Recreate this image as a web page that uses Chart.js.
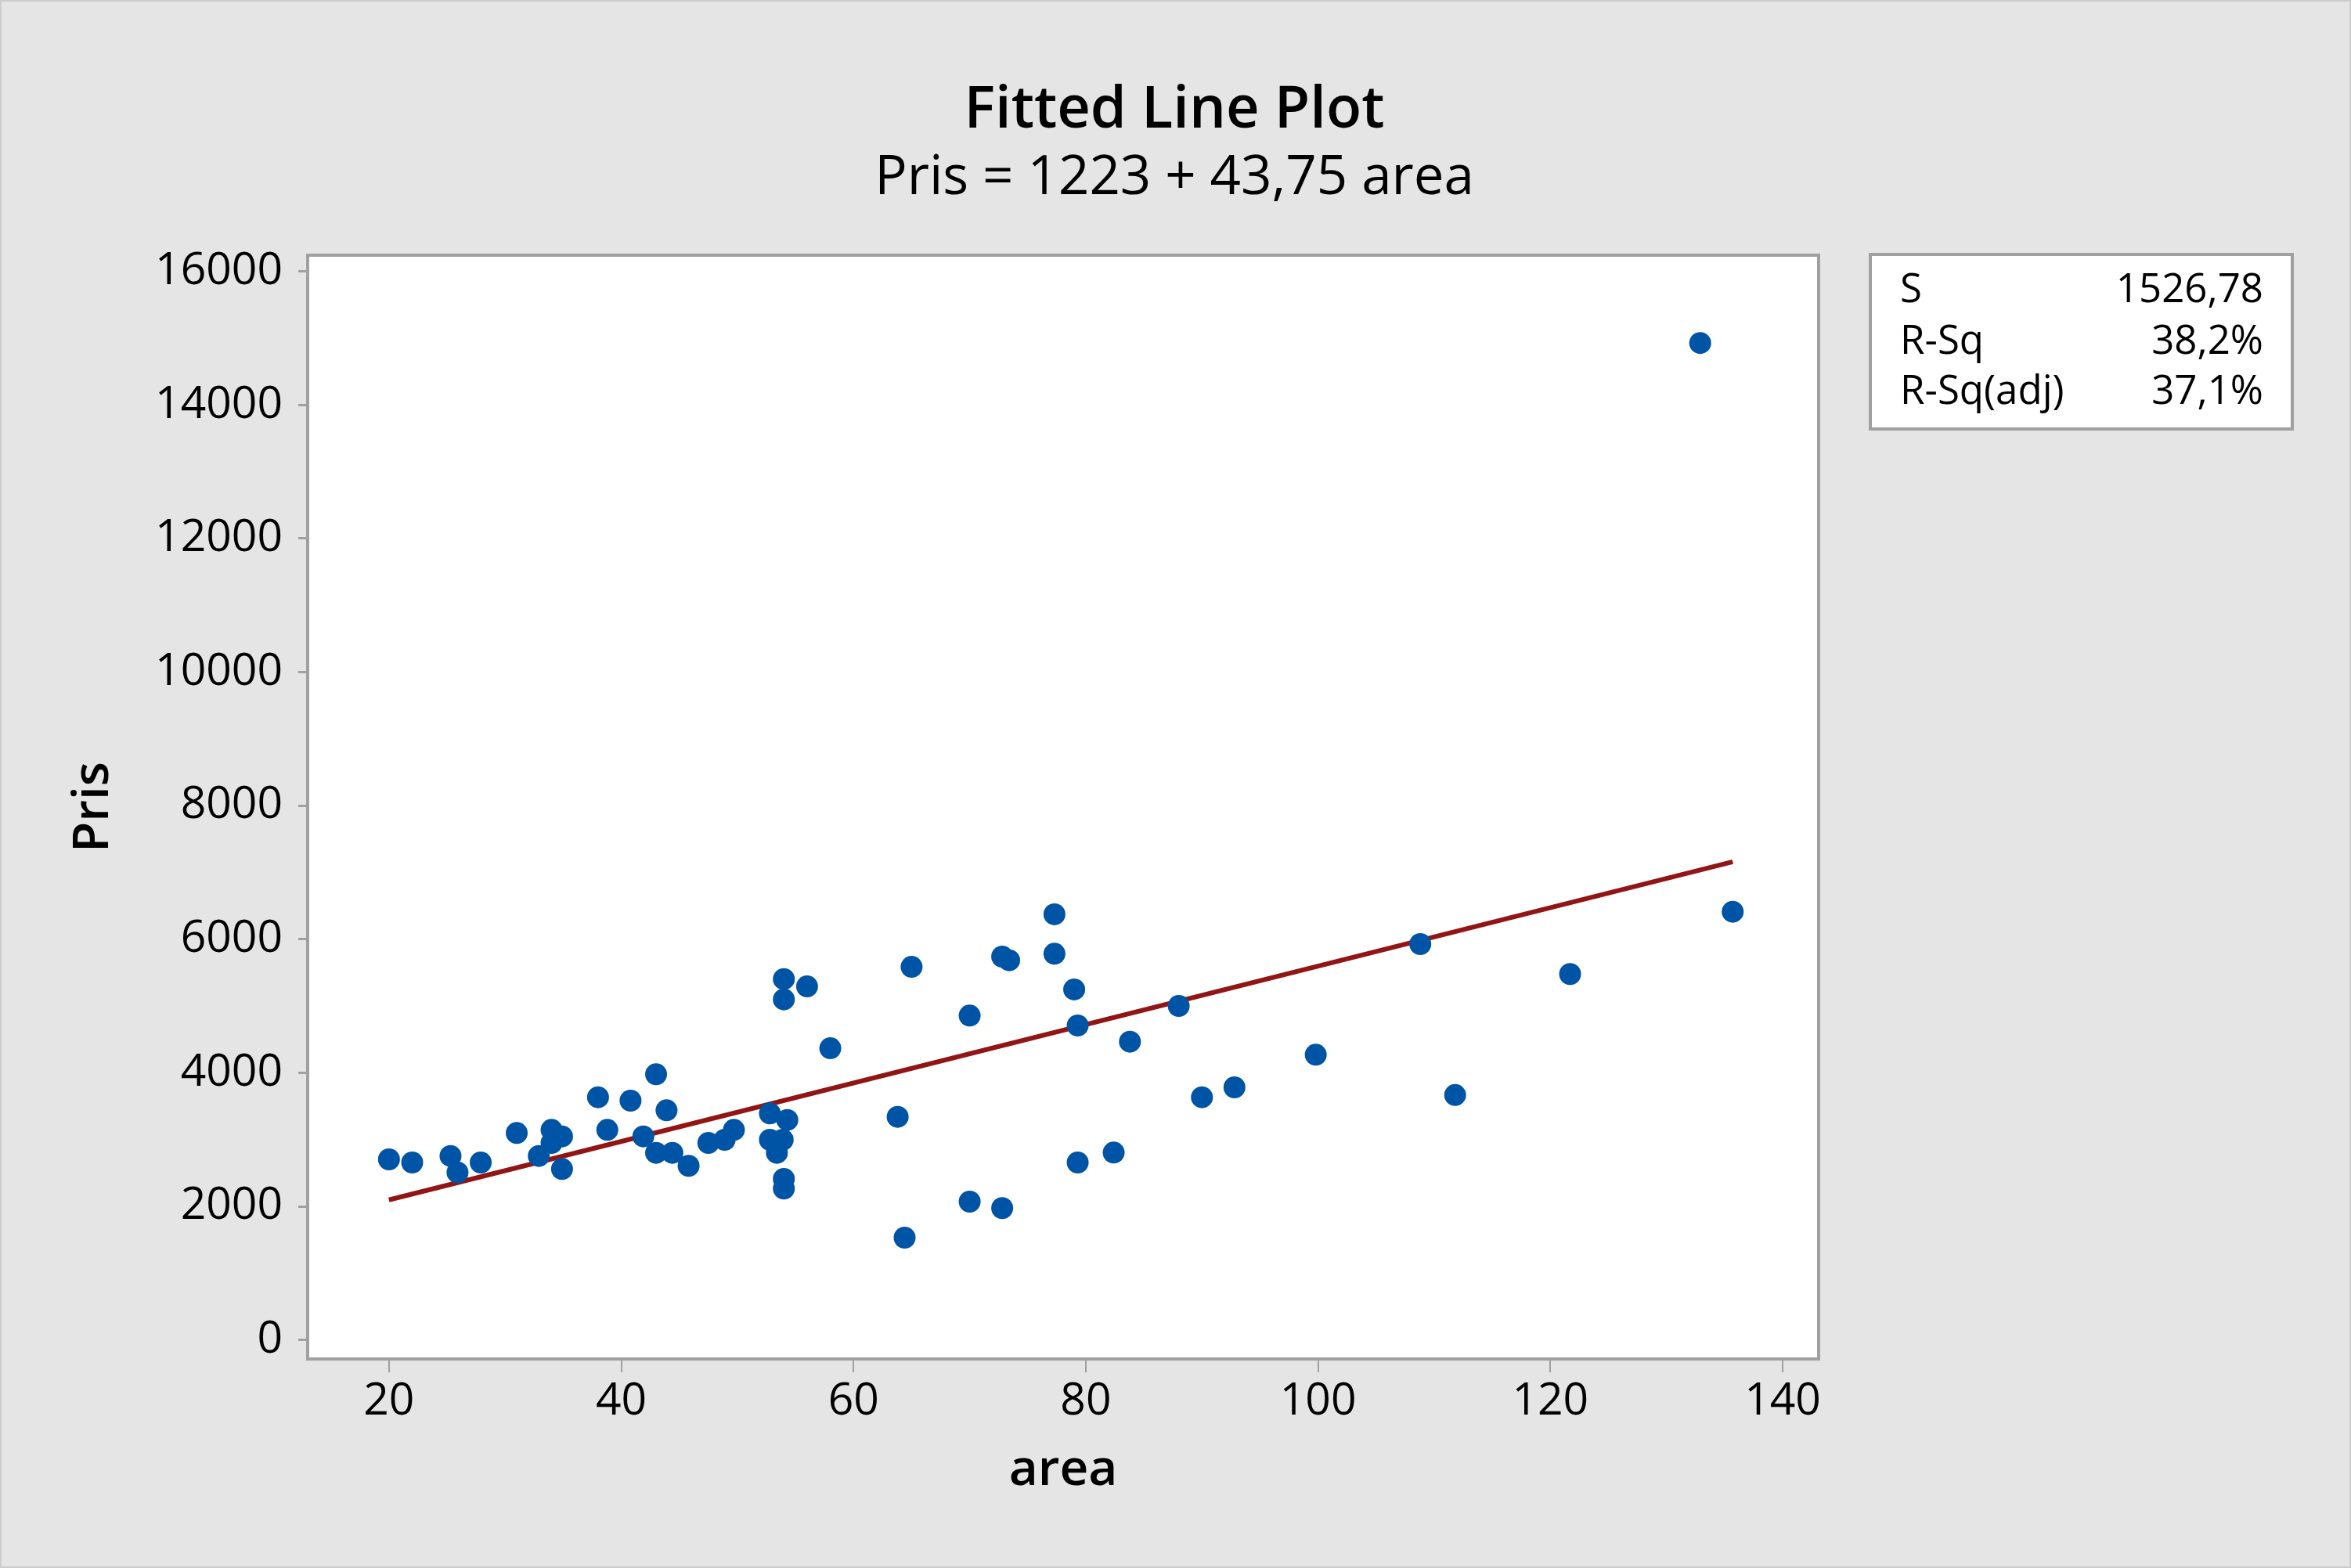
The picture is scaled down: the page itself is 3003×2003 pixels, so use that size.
<!DOCTYPE html>
<html>
<head>
<meta charset="utf-8">
<script src="https://cdn.jsdelivr.net/npm/chart.js@4.4.0/dist/chart.umd.min.js"></script>
<style>
  html, body { margin: 0; padding: 0; background: #e5e5e5; }
  #caixa { width: 3003px; height: 2003px; }
</style>
</head>
<body>
<div id="caixa"><canvas id="grafico" width="3003" height="2003"></canvas></div>
<script>
// dados
const area = [20.0, 22.0, 25.3, 25.9, 27.9, 31.0, 32.9, 34.0, 34.9, 34.0,
              34.9, 38.0, 40.8, 38.8, 43.0, 43.9, 41.9, 43.0, 44.4, 45.8,
              47.5, 48.9, 49.7, 52.8, 54.3, 52.8, 53.9, 53.4, 54.0, 54.0,
              54.0, 54.0, 56.0, 58.0, 65.0, 63.8, 64.4, 70.0, 70.0, 72.8,
              72.8, 73.4, 77.3, 77.3, 79.0, 79.3, 79.3, 82.4, 83.8, 88.0,
              90.0, 92.8, 99.8, 108.8, 111.8, 121.7, 132.9, 135.7]
const pris = [2705, 2658, 2756, 2510, 2658, 3100, 2756, 3147, 3049, 2951,
              2561, 3635, 3584, 3147, 3979, 3440, 3049, 2803, 2803, 2608,
              2951, 2998, 3147, 3393, 3295, 2998, 2998, 2803, 2412, 2268,
              5405, 5100, 5295, 4369, 5588, 3342, 1533, 4858, 2072, 1975,
              5741, 5686, 6374, 5784, 5249, 4709, 2658, 2807, 4467, 5002,
              3635, 3783, 4272, 5928, 3668, 5480, 14928, 6413]

// linha ajustada (pontos extremos)
const linhaX = [20, 135.7]
const linhaY = [2098, 7160]

const xTicks = [20, 40, 60, 80, 100, 120, 140]
const yTicks = [0, 2000, 4000, 6000, 8000, 10000, 12000, 14000, 16000]

const titulo = 'Fitted Line Plot'
const subtitulo = 'Pris = 1223 + 43,75 area'
const estatNomes = ['S', 'R-Sq', 'R-Sq(adj)']
const estatValores = ['1526,78', '38,2%', '37,1%']

const fonte = "'Open Sans', 'Noto Sans', sans-serif"
Chart.defaults.font.family = fonte
Chart.defaults.color = '#000'

const moldura = {
    id: 'moldura',
    beforeDraw(chart) {
        const ctx = chart.ctx
        const ca = chart.chartArea
        ctx.save()
        ctx.fillStyle = '#e5e5e5'
        ctx.fillRect(0, 0, chart.width, chart.height)
        ctx.strokeStyle = '#cccccc'
        ctx.lineWidth = 4
        ctx.strokeRect(0, 0, chart.width, chart.height)
        ctx.fillStyle = '#ffffff'
        ctx.fillRect(ca.left, ca.top, ca.right - ca.left, ca.bottom - ca.top)
        ctx.restore()
    },
    afterDraw(chart) {
        const ctx = chart.ctx
        const ca = chart.chartArea
        ctx.save()
        // borda da area do grafico
        ctx.strokeStyle = '#a0a0a0'
        ctx.lineWidth = 4
        ctx.strokeRect(ca.left, ca.top, ca.right - ca.left, ca.bottom - ca.top)

        // titulos
        ctx.fillStyle = '#000'
        ctx.textAlign = 'center'
        ctx.textBaseline = 'alphabetic'
        ctx.font = '600 74px ' + fonte
        ctx.fillText(titulo, 1500, 163)
        ctx.font = '500 69px ' + fonte
        ctx.fillText(subtitulo, 1500, 248)

        // caixa de estatisticas
        ctx.fillStyle = '#ffffff'
        ctx.fillRect(2389, 325, 539, 223)
        ctx.strokeRect(2389, 325, 539, 223)
        ctx.fillStyle = '#000'
        ctx.font = '500 51px ' + fonte
        const linhas = [386, 452, 516]
        for (let i = 0; i < estatNomes.length; i++) {
            ctx.textAlign = 'left'
            ctx.fillText(estatNomes[i], 2427, linhas[i])
            ctx.textAlign = 'right'
            ctx.fillText(estatValores[i], 2891, linhas[i])
        }
        ctx.restore()
    }
}

const pontos = area.map(function(a, i) { return { x: a, y: pris[i] } })
const linha = linhaX.map(function(a, i) { return { x: a, y: linhaY[i] } })

const ctx = document.getElementById('grafico').getContext('2d')
const grafico = new Chart(ctx, {
    type: 'scatter',
    data: {
        datasets: [{
            label: 'Pris',
            data: pontos,
            pointRadius: 14,
            pointHoverRadius: 14,
            backgroundColor: '#0054a6',
            borderWidth: 0
        }, {
            label: 'Ajuste',
            data: linha,
            showLine: true,
            pointRadius: 0,
            borderColor: '#921515',
            borderWidth: 6
        }]
    },
    options: {
        responsive: false,
        animation: false,
        devicePixelRatio: 1,
        layout: { padding: { top: 326, right: 680, bottom: 0, left: 0 } },
        plugins: {
            legend: { display: false },
            tooltip: { enabled: false }
        },
        scales: {
            x: {
                type: 'linear',
                min: 13,
                max: 143.1,
                afterBuildTicks: function(s) { s.ticks = xTicks.map(function(v) { return { value: v } }) },
                afterFit: function(s) { s.height = 267 },
                grid: { drawOnChartArea: false, drawTicks: true, tickLength: 17, color: '#a0a0a0', lineWidth: 2 },
                border: { display: false },
                ticks: { font: { size: 57, weight: '500' }, color: '#000', padding: 4, maxRotation: 0,
                         callback: function(v) { return String(v) } },
                title: { display: true, text: 'area', font: { size: 64, weight: '600' }, color: '#000', padding: { top: 0, bottom: 86 } }
            },
            y: {
                type: 'linear',
                min: -284,
                max: 16243,
                afterBuildTicks: function(s) { s.ticks = yTicks.map(function(v) { return { value: v } }) },
                afterFit: function(s) { s.width = 393 },
                grid: { drawOnChartArea: false, drawTicks: true, tickLength: 12, color: '#a0a0a0', lineWidth: 3 },
                border: { display: false },
                ticks: { font: { size: 57, weight: '500' }, color: '#000', padding: 20,
                         callback: function(v) { return String(v) } },
                title: { display: true, text: 'Pris', font: { size: 64, weight: '600' }, color: '#000', padding: { top: 81, bottom: 0 } }
            }
        }
    },
    plugins: [moldura]
});
</script>
</body>
</html>
